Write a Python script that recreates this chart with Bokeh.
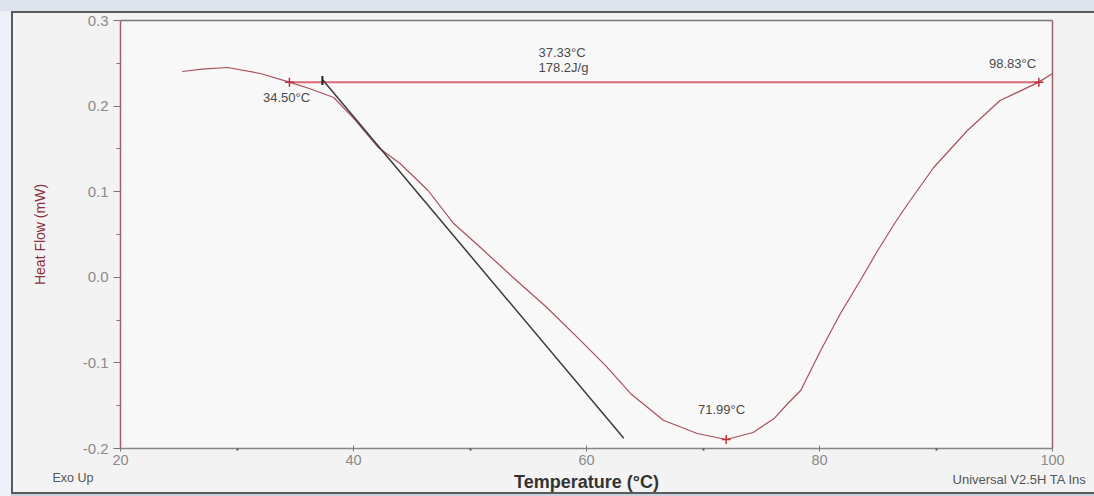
from bokeh.plotting import figure
from bokeh.models import Label, LinearAxis, Range1d, FixedTicker, BoxAnnotation
from bokeh.embed import file_html
from bokeh.resources import INLINE

# ---- data ----
temperature = [25.3, 27.0, 29.2, 32.0, 34.5, 36.2, 38.3, 40.0, 42.1, 44.0, 46.4,
               48.6, 50.9, 53.7, 56.6, 59.5, 61.7, 63.8, 66.6, 69.5, 71.99, 74.3, 76.1,
               77.2, 78.4, 80.1, 81.8, 83.5, 85.0, 86.5, 87.6, 89.8, 92.7, 95.5, 98.83, 100.0]
heat_flow = [0.2404, 0.2433, 0.2451, 0.2381, 0.2280, 0.2206, 0.2100, 0.1860, 0.1520,
             0.1330, 0.1014, 0.0628, 0.0348, -0.0002, -0.0353, -0.0740, -0.1040, -0.1360,
             -0.1670, -0.1825, -0.1895, -0.1813, -0.1650, -0.1486, -0.1320, -0.0855, -0.0423,
             -0.0037, 0.0313, 0.0640, 0.0862, 0.1283, 0.1715, 0.2065, 0.2280, 0.2380]

tangent_t = [37.33, 63.2]
tangent_h = [0.231, -0.188]
baseline_t = [34.50, 98.83]
baseline_h = [0.228, 0.228]
marker_t = [34.50, 71.99, 98.83]
marker_h = [0.228, -0.1895, 0.228]
onset_t = [37.33]
onset_h = [0.230]

x_ticks = [20, 40, 60, 80, 100]
x_minor = [30, 50, 70, 90]
y_ticks = [-0.2, -0.1, 0.0, 0.1, 0.2, 0.3]
y_tick_labels = ["-0.2", "-0.1", "0.0", "0.1", "0.2", "0.3"]
y_minor = [-0.15, -0.05, 0.05, 0.15, 0.25]

FONT = "Liberation Sans"
CURVE = "#a9505c"
AXIS_RED = "#a0606a"
BOX = "#5a5a5a"

# ---- layout: the frame fills the whole canvas, axes are pinned at the data box edges ----
W, H = 1094, 496
PX_L, PX_R, PX_T, PX_B = 120, 1052, 20, 448
x0, x1 = x_ticks[0], x_ticks[-1]
y0, y1 = y_ticks[0], y_ticks[-1]
kx = (PX_R - PX_L) / (x1 - x0)
ky = (PX_B - PX_T) / (y1 - y0)

p = figure(width=W, height=H, output_backend="svg", toolbar_location=None, title_location=None,
           x_range=Range1d(x0 - PX_L / kx, x1 + (W - PX_R) / kx),
           y_range=Range1d(y0 - (H - PX_B) / ky, y1 + PX_T / ky),
           min_border=0)
p.background_fill_color = None
p.border_fill_color = None
p.outline_line_color = None
p.styles = {
    "background-color": "#f3f3f3",
    "background-image": ", ".join([f"linear-gradient({BOX},{BOX})"] * 3 +
                                  ["linear-gradient(#dde4ee,#dde4ee)",
                                   "linear-gradient(#eef2f8,#eef2f8)",
                                   "linear-gradient(#c9d1dd,#c9d1dd)"]),
    "background-size": "2px 483px, 1083px 2px, 1083px 2px, 1094px 11px, 11px 496px, 1094px 2px",
    "background-position": "11px 11px, 11px 11px, 11px 492px, 0px 0px, 0px 0px, 0px 494px",
    "background-repeat": "no-repeat",
}
p.grid.visible = False

# inner plot box fill
p.add_layout(BoxAnnotation(left=x0, right=x1, bottom=y0, top=y1, fill_color="#f8f8f8",
                           fill_alpha=1.0, line_color=None, level="underlay"))

# bottom axis
xa = p.xaxis[0]
xa.fixed_location = y0
xa.bounds = (x0, x1)
xa.ticker = FixedTicker(ticks=x_ticks, minor_ticks=x_minor)
xa.axis_line_color = "#888888"
xa.axis_line_width = 1.5
xa.major_tick_in = 3
xa.major_tick_out = 3
xa.major_tick_line_color = "#777777"
xa.minor_tick_in = 0
xa.minor_tick_out = 2
xa.minor_tick_line_color = "#555555"
xa.minor_tick_line_width = 2
xa.major_label_text_font = FONT
xa.major_label_text_font_size = "14.5px"
xa.major_label_text_color = "#8a8a8a"
xa.major_label_standoff = 3

# left axis
ya = p.yaxis[0]
ya.fixed_location = x0
ya.bounds = (y0, y1)
ya.ticker = FixedTicker(ticks=y_ticks, minor_ticks=y_minor)
ya.major_label_overrides = {t: s for t, s in zip(y_ticks, y_tick_labels)}
ya.axis_line_color = AXIS_RED
ya.axis_line_width = 1.5
ya.major_tick_in = 0
ya.major_tick_out = 7
ya.major_tick_line_color = "#777777"
ya.minor_tick_in = 0
ya.minor_tick_out = 4
ya.minor_tick_line_color = "#777777"
ya.major_label_text_font = FONT
ya.major_label_text_font_size = "15px"
ya.major_label_text_color = "#8a8a8a"
ya.major_label_standoff = 5

# top and right edges of the plot box
top_axis = LinearAxis(fixed_location=y1, bounds=(x0, x1), ticker=FixedTicker(ticks=[]),
                      axis_line_color="#777777", axis_line_width=1.5,
                      major_tick_line_color=None, minor_tick_line_color=None)
p.add_layout(top_axis, "above")
right_axis = LinearAxis(fixed_location=x1, bounds=(y0, y1), ticker=FixedTicker(ticks=[]),
                        axis_line_color=AXIS_RED, axis_line_width=1.5,
                        major_tick_line_color=None, minor_tick_line_color=None)
p.add_layout(right_axis, "right")

# lines
p.line(temperature, heat_flow, line_color=CURVE, line_width=1.2)
p.line(baseline_t, baseline_h, line_color="#d86a78", line_width=2)
p.line(tangent_t, tangent_h, line_color="#3a3a3a", line_width=1.5)
p.scatter(marker_t, marker_h, marker="cross", size=9, line_color="#c0303f", line_width=1.5)
p.scatter(onset_t, onset_h, marker="dash", angle=1.5708, size=9, line_color="#222222", line_width=2)

# texts
def lab(x, y, text, align="left", size="13px", color="#4a4a4a", style="normal", angle=0.0):
    p.add_layout(Label(x=x, y=y, text=text, angle=angle,
                       text_align=align, text_baseline="middle",
                       text_font=FONT, text_font_size=size, text_color=color,
                       text_font_style=style))

lab(34.25, 0.2106, "34.50°C", align="center")
lab(55.88, 0.2626, "37.33°C")
lab(55.88, 0.2450, "178.2J/g")
lab(96.57, 0.2492, "98.83°C", align="center")
lab(71.59, -0.1544, "71.99°C", align="center")
# axis titles and footer texts
lab(13.13, 0.050, "Heat Flow (mW)", align="center", size="14px", color="#8b3040", angle=1.5708)
lab(60.0, -0.2386, "Temperature (°C)", align="center", size="18px", color="#333333", style="bold")
lab(14.16, -0.2350, "Exo Up", size="12.5px", color="#555555")
lab(91.42, -0.2362, "Universal V2.5H TA Ins", size="13px", color="#555555")

open("out.html", "w").write(file_html(p, INLINE))
